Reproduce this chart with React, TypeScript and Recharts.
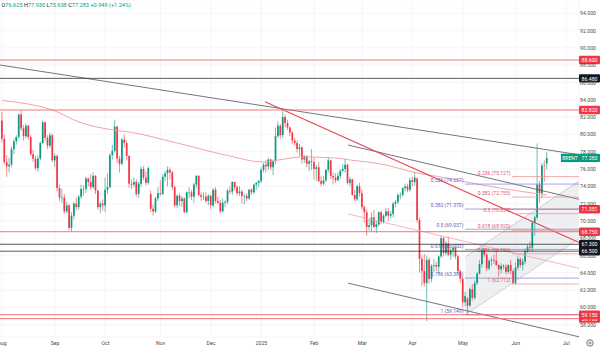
import React from 'react';
import { ComposedChart, Bar, Line, Area, XAxis, YAxis, CartesianGrid, ReferenceLine } from 'recharts';

// Daily candles [open, high, low, close]
const aug24 = [
  [81.6, 82.6, 79.1, 79.5], [79.5, 80.0, 76.5, 76.8], [76.8, 77.6, 75.1, 76.3], [76.3, 77.3, 75.6, 76.5],
  [76.5, 78.6, 76.2, 78.3], [78.3, 79.5, 77.7, 79.2], [79.2, 79.9, 78.8, 79.7], [79.7, 82.4, 79.5, 82.3],
  [82.3, 82.8, 80.4, 80.7], [80.7, 81.1, 79.3, 79.8], [79.8, 81.3, 79.5, 81.0], [81.0, 81.1, 79.4, 79.7],
  [79.7, 79.9, 77.5, 77.7], [77.7, 78.2, 76.8, 77.2], [77.2, 77.5, 75.9, 76.1], [76.1, 77.6, 75.7, 77.2],
  [77.2, 79.2, 77.0, 79.0], [79.0, 81.6, 78.9, 81.4], [81.4, 81.5, 79.3, 79.6], [79.6, 79.9, 78.3, 78.7],
  [78.7, 80.2, 78.4, 79.9], [79.9, 80.1, 76.8, 77.0],
];
const sep24 = [
  [77.0, 77.8, 76.2, 77.5], [77.5, 77.7, 73.4, 73.8], [73.8, 74.2, 72.3, 72.7], [72.7, 73.7, 72.1, 72.7],
  [72.7, 73.1, 70.8, 71.1], [71.1, 72.2, 70.9, 71.8], [71.8, 72.0, 68.9, 69.2], [69.2, 71.0, 68.8, 70.6],
  [70.6, 72.2, 70.2, 72.0], [72.0, 72.7, 71.3, 71.6], [71.6, 73.0, 71.3, 72.8], [72.8, 74.2, 72.5, 73.7],
  [73.7, 74.1, 72.9, 73.7], [73.7, 75.1, 73.2, 74.9], [74.9, 75.0, 74.0, 74.5], [74.5, 75.4, 73.6, 73.9],
  [73.9, 75.6, 73.7, 75.2], [75.2, 75.3, 73.1, 73.5], [73.5, 73.6, 71.3, 71.6], [71.6, 72.2, 70.9, 72.0],
  [72.0, 72.5, 71.2, 71.8],
];
const oct24 = [
  [71.8, 75.0, 71.0, 73.6], [73.6, 75.5, 73.1, 73.9], [73.9, 77.8, 73.8, 77.6], [77.6, 78.8, 77.1, 78.1],
  [78.1, 81.7, 77.9, 80.9], [80.9, 81.0, 76.7, 77.2], [77.2, 77.5, 75.6, 76.6], [76.6, 79.6, 76.4, 79.4],
  [79.4, 80.0, 78.5, 79.0], [79.0, 79.3, 77.0, 77.5], [77.5, 77.6, 73.8, 74.3], [74.3, 74.8, 73.7, 74.2],
  [74.2, 75.0, 73.9, 74.5], [74.5, 74.8, 72.8, 73.1], [73.1, 74.5, 72.7, 74.3], [74.3, 76.3, 73.9, 76.0],
  [76.0, 76.3, 74.7, 75.0], [75.0, 75.7, 74.1, 74.4], [74.4, 76.3, 74.2, 76.1], [73.1, 73.5, 71.0, 71.4],
  [71.4, 71.9, 70.6, 71.1], [71.1, 72.8, 70.9, 72.6], [72.6, 73.9, 72.3, 73.2],
];
const nov24 = [
  [73.2, 74.7, 72.9, 73.1], [73.1, 75.4, 73.0, 75.1], [75.1, 75.8, 74.6, 75.5], [75.5, 76.3, 74.0, 75.9],
  [75.9, 76.2, 74.8, 75.6], [75.6, 75.8, 73.6, 73.9], [73.9, 74.1, 71.6, 71.8], [71.8, 73.1, 71.5, 72.9],
  [72.9, 73.2, 71.7, 72.3], [72.3, 72.9, 71.6, 72.6], [72.6, 72.7, 70.9, 71.0], [71.0, 73.4, 70.9, 73.3],
  [73.3, 73.9, 72.6, 73.3], [73.3, 73.6, 72.4, 72.8], [72.8, 74.4, 72.1, 74.2], [74.2, 75.3, 73.8, 75.2],
  [75.2, 75.3, 72.8, 73.0], [73.0, 73.3, 72.3, 72.8], [72.8, 73.3, 72.4, 72.8], [72.8, 73.3, 72.1, 72.3],
  [72.3, 73.1, 71.8, 72.9],
];
const dec24 = [
  [72.9, 73.0, 71.4, 71.8], [71.8, 73.8, 71.6, 73.6], [73.6, 73.9, 72.0, 72.3], [72.3, 72.8, 71.9, 72.1],
  [72.1, 72.4, 70.9, 71.1], [71.1, 72.6, 71.0, 72.1], [72.1, 72.4, 71.6, 72.2], [72.2, 73.7, 71.9, 73.5],
  [73.5, 74.0, 73.1, 73.4], [73.4, 74.6, 73.0, 74.5], [74.5, 74.5, 73.5, 73.9], [73.9, 74.1, 72.9, 73.2],
  [73.2, 74.0, 72.9, 73.4], [73.4, 73.6, 72.0, 72.9], [72.9, 73.1, 71.9, 72.9], [72.9, 73.2, 72.3, 72.6],
  [72.6, 73.7, 72.4, 73.6], [73.6, 73.8, 73.0, 73.3], [73.3, 74.3, 73.1, 74.2], [74.2, 74.5, 73.6, 74.4],
  [74.4, 74.8, 73.9, 74.6],
];
const jan25 = [
  [74.6, 76.2, 74.4, 75.9], [75.9, 76.7, 75.6, 76.5], [76.5, 77.0, 75.6, 76.3], [76.3, 77.3, 75.9, 77.1],
  [77.1, 77.2, 75.9, 76.2], [76.2, 77.1, 75.3, 76.9], [76.9, 80.8, 76.6, 79.8], [79.8, 81.5, 79.6, 81.0],
  [81.0, 81.2, 79.5, 79.9], [79.9, 82.7, 79.6, 82.0], [82.0, 82.3, 80.8, 81.3], [81.3, 81.7, 80.5, 80.8],
  [80.8, 80.9, 79.8, 80.2], [80.2, 80.4, 78.9, 79.3], [79.3, 79.6, 78.7, 79.0], [79.0, 79.3, 77.9, 78.3],
  [78.3, 78.9, 77.5, 78.5], [78.5, 78.6, 76.6, 77.1], [77.1, 77.6, 76.7, 77.5], [77.5, 77.6, 76.2, 76.6],
  [76.6, 77.1, 75.8, 76.9], [76.9, 78.3, 75.9, 76.8],
];
const feb25 = [
  [76.8, 77.3, 74.8, 76.0], [76.0, 76.5, 74.6, 76.2], [76.2, 76.8, 74.5, 74.6], [74.6, 75.2, 74.0, 74.3],
  [74.3, 75.2, 74.1, 74.7], [74.7, 76.0, 74.5, 75.9], [75.9, 77.3, 75.6, 77.0], [77.0, 77.1, 74.8, 75.2],
  [75.2, 75.6, 74.2, 75.0], [75.0, 75.5, 74.4, 74.7], [74.7, 75.6, 74.6, 75.2], [75.2, 76.0, 74.9, 75.8],
  [75.8, 76.6, 75.6, 76.0], [76.0, 77.2, 75.6, 76.5], [76.5, 76.6, 74.2, 74.4], [74.4, 75.1, 74.0, 74.8],
  [74.8, 74.9, 72.9, 73.0], [73.0, 73.6, 72.3, 72.5], [72.5, 74.2, 72.3, 74.0], [74.0, 74.4, 72.8, 73.2],
];
const mar25 = [
  [73.2, 73.6, 71.3, 71.6], [71.6, 71.8, 69.8, 71.0], [71.0, 71.3, 68.3, 69.3], [69.3, 70.2, 68.9, 69.5],
  [69.5, 71.0, 68.8, 70.4], [70.4, 71.3, 69.2, 69.3], [69.3, 70.0, 68.6, 69.6], [69.6, 71.1, 69.4, 71.0],
  [71.0, 71.2, 69.6, 69.9], [69.9, 70.8, 69.7, 70.6], [70.6, 71.5, 70.4, 71.1], [71.1, 71.5, 70.0, 70.6],
  [70.6, 71.1, 70.3, 70.8], [70.8, 72.2, 70.4, 72.0], [72.0, 72.4, 71.6, 72.2], [72.2, 73.2, 71.9, 73.0],
  [73.0, 73.3, 72.5, 73.0], [73.0, 73.9, 72.8, 73.8], [73.8, 74.3, 73.4, 74.0], [74.0, 74.3, 73.3, 73.6],
  [73.6, 75.0, 73.3, 74.7],
];
const apr25 = [
  [74.7, 75.1, 74.0, 74.5], [74.5, 75.7, 74.1, 75.0], [74.9, 75.0, 69.8, 70.1], [70.1, 70.4, 64.0, 65.6],
  [65.6, 66.0, 62.5, 64.2], [64.2, 66.2, 62.4, 62.8], [62.8, 66.0, 58.4, 65.5], [65.5, 65.8, 62.7, 63.3],
  [63.3, 65.0, 62.9, 64.8], [64.8, 65.6, 64.1, 64.9], [64.9, 65.3, 64.2, 64.7], [64.7, 66.0, 64.0, 65.9],
  [65.9, 68.3, 65.7, 68.0], [68.0, 68.2, 65.9, 66.3], [66.3, 67.7, 66.0, 67.4], [67.4, 68.2, 65.9, 66.1],
  [66.1, 66.9, 65.5, 66.6], [66.6, 67.3, 65.8, 66.9], [66.9, 67.1, 65.6, 65.9], [65.9, 66.1, 63.9, 64.2],
  [64.2, 64.4, 62.8, 63.3],
];
const may25 = [
  [63.3, 63.6, 60.0, 60.6], [60.6, 61.8, 60.1, 61.3], [61.0, 61.2, 59.15, 60.2], [60.2, 62.3, 60.1, 62.1],
  [62.1, 62.7, 60.8, 61.1], [61.1, 63.1, 60.9, 62.8], [62.8, 64.1, 62.6, 63.9], [63.9, 65.5, 63.8, 65.0],
  [65.0, 67.0, 64.6, 66.6], [66.6, 66.9, 65.8, 66.1], [66.1, 66.3, 64.2, 64.5], [64.5, 65.6, 64.3, 65.4],
  [65.4, 65.8, 64.8, 65.5], [65.5, 66.1, 65.0, 65.4], [65.4, 66.6, 64.8, 64.9], [64.9, 65.0, 63.5, 64.4],
  [64.4, 65.1, 63.9, 64.8], [64.8, 65.0, 64.4, 64.7], [64.7, 65.0, 63.8, 64.1], [64.1, 65.0, 63.9, 64.9],
  [64.9, 65.5, 63.8, 64.2], [64.2, 64.4, 62.7, 62.8],
];
const jun25 = [
  [62.8, 65.2, 62.6, 64.6], [64.6, 66.0, 64.3, 65.6], [65.6, 65.8, 64.6, 64.9], [64.9, 65.7, 64.3, 65.3],
  [65.3, 66.8, 65.0, 66.5], [66.5, 67.3, 66.3, 67.0], [67.0, 67.6, 66.4, 66.9], [66.9, 69.9, 66.4, 69.8],
  [69.8, 70.6, 68.3, 70.4], [70.4, 78.95, 70.2, 74.2], [74.2, 74.6, 72.1, 73.2], [73.2, 76.7, 72.6, 76.4],
  [76.4, 77.0, 74.5, 76.33], [76.625, 77.93, 75.938, 77.283],
];

// x axis: month starts (bar index) and labels
const monthTicks = [0, 22, 43, 66, 87, 108, 130, 150, 171, 192, 214, 235];
const monthLabels = ['Aug', 'Sep', 'Oct', 'Nov', 'Dec', '2025', 'Feb', 'Mar', 'Apr', 'May', 'Jun', 'Jul'];
const priceTicks = [58, 60, 62, 64, 66, 68, 70, 72, 74, 76, 78, 80, 82, 84, 86, 88, 90, 92, 94];

// 200-day moving average, read at sample bars
const maBars = [0, 10, 21, 32, 45, 53, 73, 93, 109, 115, 125, 139, 145, 160, 171, 185, 200, 215, 227];
const maValues = [83.92, 83.55, 82.82, 81.43, 80.57, 80.27, 79.0, 77.62, 76.81, 77.04, 77.39, 77.27, 77.04, 76.46, 75.65, 74.96, 74.15, 73.46, 73.0];

// rising channel (lower/upper) at its two ends
const channelBars = [193, 240];
const channelLow = [59.16, 67.93];
const channelHigh = [65.86, 74.58];

const X_MIN = -0.9167;
const X_MAX = 240.33;
const Y_MIN = 56.578;
const Y_MAX = 95.538;

// drawn trend lines: [x1, y1, x2, y2]
const trendBlack = [
  [X_MIN, 88.02, X_MAX, 77.65],
  [144.1, 78.77, X_MAX, 72.5],
  [144.1, 62.8, X_MAX, 56.6],
];
const trendRed = [[109.5, 83.77, X_MAX, 67.51]];
const trendPink = [[144.1, 70.8, X_MAX, 64.52]];
const trendGray = [
  [193, 65.86, X_MAX, 74.6],
  [193, 59.16, X_MAX, 67.95],
];

// fibonacci retracements
const fibARatios = ['0.236', '0.382', '0.5', '0.618', '0.786', '1'];
const fibAValues = [74.257, 71.37, 69.037, 66.703, 63.386, 59.149];
const fibAStart = 192.8;
const fibBRatios = ['0.236', '0.382', '0.5', '0.618', '0.786', '1'];
const fibBValues = [75.127, 72.755, 70.837, 68.92, 66.196, 62.712];
const fibBStart = 212.4;

// horizontal levels
const redLevels = [88.6, 82.82, 68.75, 58.7, 59.15];
const blackLevels = [86.48, 67.3, 66.5];
const partialRed = { start: 210, value: 71.351 };
const lastPrice = 77.283;

const UP = '#089981';
const DOWN = '#f23645';
const RED_LINE = '#f0646c';
const BLACK_LINE = '#2a2e39';
const FONT = 'Roboto, Arial, sans-serif';

const allCandles = [...aug24, ...sep24, ...oct24, ...nov24, ...dec24, ...jan25, ...feb25, ...mar25, ...apr25, ...may25, ...jun25];

const rows: any[] = allCandles.map(([o, h, l, c], i) => ({ i, o, h, l, c, range: [l, h] }));
maBars.forEach((b, k) => { rows[b].ma = maValues[k]; });
rows.push({ i: 240 });
const rowAt = (b: number) => rows.find((r) => r.i === b);
channelBars.forEach((b, k) => { rowAt(b).chan = [channelLow[k], channelHigh[k]]; });

const Candle = (props: any) => {
  const { x, y, width, height, payload } = props;
  if (!payload || payload.o == null || y == null || isNaN(y)) return null;
  const { o, h, l, c } = payload;
  const top = Math.min(y, y + height);
  const bot = Math.max(y, y + height);
  const ppu = (bot - top) / (h - l || 1);
  const yO = top + (h - o) * ppu;
  const yC = top + (h - c) * ppu;
  const cx = x + width / 2;
  const color = c >= o ? UP : DOWN;
  const bt = Math.min(yO, yC);
  const bh = Math.max(Math.abs(yO - yC), 0.6);
  return (
    <g>
      <line x1={cx} x2={cx} y1={top} y2={bot} stroke={color} strokeWidth={0.6} />
      <rect x={cx - 0.85} y={bt} width={1.7} height={bh} fill={color} />
    </g>
  );
};

const priceBox = (text: string, color: string, tag?: string) => (props: any) => {
  const vb = props.viewBox || {};
  const xr = (vb.x || 0) + (vb.width || 0);
  const yc = vb.y || 0;
  return (
    <g>
      {tag ? (
        <g>
          <rect x={xr - 18} y={yc - 4.2} width={18} height={8.4} fill={color} />
          <text x={xr - 9} y={yc + 0.2} textAnchor="middle" dominantBaseline="central" fontSize={5} fill="#fff" fontFamily={FONT}>{tag}</text>
        </g>
      ) : null}
      <rect x={xr} y={yc - 4.2} width={600 - xr} height={8.4} fill={color} rx={1} />
      <text x={xr + (600 - xr) / 2} y={yc + 0.2} textAnchor="middle" dominantBaseline="central" fontSize={5.2} fill="#fff" fontFamily={FONT}>{text}</text>
    </g>
  );
};

const fibLabel = (text: string, color: string) => (props: any) => {
  const vb = props.viewBox || {};
  return (
    <text x={(vb.x || 0) - 1.5} y={(vb.y || 0) - 1.8} textAnchor="end" fontSize={5} fill={color} fontFamily={FONT}>{text}</text>
  );
};

const XTick = (props: any) => {
  const { x, y, payload } = props;
  const k = monthTicks.indexOf(payload.value);
  return (
    <text x={x} y={y + 6} textAnchor="middle" dominantBaseline="central" fontSize={5.2} fill="#4a4a4a" fontFamily={FONT}>
      {monthLabels[k]}
    </text>
  );
};

const YTick = (props: any) => {
  const { y, payload } = props;
  return (
    <text x={596} y={y} textAnchor="end" dominantBaseline="central" fontSize={5.2} fill="#4a4a4a" fontFamily={FONT}>
      {Number(payload.value).toFixed(3)}
    </text>
  );
};

export default function App() {
  const seg = (a: number[]) => [{ x: a[0], y: a[1] }, { x: a[2], y: a[3] }];
  return (
    <div style={{ position: 'fixed', left: 0, top: 0, width: 600, height: 351, background: '#fff', overflow: 'hidden' }}>
      <ComposedChart width={600} height={351} data={rows} margin={{ top: 0, right: 0, bottom: 0, left: 0 }}>
        <CartesianGrid stroke="#f0f2f6" strokeWidth={0.7} />
        <XAxis
          type="number"
          dataKey="i"
          domain={[X_MIN, X_MAX]}
          allowDataOverflow
          ticks={monthTicks}
          interval={0}
          height={14}
          axisLine={false}
          tickLine={false}
          tickSize={0}
          tickMargin={0}
          tick={<XTick />}
        />
        <YAxis
          orientation="right"
          type="number"
          domain={[Y_MIN, Y_MAX]}
          allowDataOverflow
          ticks={priceTicks}
          interval={0}
          width={21}
          axisLine={false}
          tickLine={false}
          tickSize={0}
          tick={<YTick />}
        />
        <Area dataKey="chan" type="linear" connectNulls stroke="none" fill="#d9dbe0" fillOpacity={0.45} isAnimationActive={false} />
        <Line dataKey="ma" type="monotone" connectNulls dot={false} stroke="#f4a3a6" strokeWidth={1} isAnimationActive={false} />
        <Bar dataKey="range" barSize={1.8} shape={<Candle />} isAnimationActive={false} />

        {trendGray.map((t, k) => (
          <ReferenceLine key={'g' + k} segment={seg(t)} stroke="#b2b5be" strokeWidth={0.6} ifOverflow="visible" />
        ))}
        {trendPink.map((t, k) => (
          <ReferenceLine key={'p' + k} segment={seg(t)} stroke="#f4a3a6" strokeWidth={0.8} ifOverflow="visible" />
        ))}
        {trendBlack.map((t, k) => (
          <ReferenceLine key={'b' + k} segment={seg(t)} stroke="#50535e" strokeWidth={0.8} ifOverflow="visible" />
        ))}
        {trendRed.map((t, k) => (
          <ReferenceLine key={'r' + k} segment={seg(t)} stroke="#e5474f" strokeWidth={1.1} ifOverflow="visible" />
        ))}

        {fibAValues.map((v, k) => (
          <ReferenceLine
            key={'fa' + k}
            segment={[{ x: fibAStart, y: v }, { x: X_MAX, y: v }]}
            stroke="#7b7fd6"
            strokeWidth={0.7}
            ifOverflow="visible"
            label={fibLabel(`${fibARatios[k]} (${v.toFixed(3)})`, '#5b5fc7')}
          />
        ))}
        {fibBValues.map((v, k) => (
          <ReferenceLine
            key={'fb' + k}
            segment={[{ x: fibBStart, y: v }, { x: X_MAX, y: v }]}
            stroke="#f08a8e"
            strokeWidth={0.7}
            ifOverflow="visible"
            label={fibLabel(`${fibBRatios[k]} (${v.toFixed(3)})`, '#e0575f')}
          />
        ))}

        <ReferenceLine
          segment={[{ x: partialRed.start, y: partialRed.value }, { x: X_MAX, y: partialRed.value }]}
          stroke={RED_LINE}
          strokeWidth={0.8}
          ifOverflow="visible"
        />
        <ReferenceLine y={partialRed.value} stroke="none" ifOverflow="visible" label={priceBox(partialRed.value.toFixed(3), '#f23645')} />

        {blackLevels.map((v) => (
          <ReferenceLine key={'bl' + v} y={v} stroke={BLACK_LINE} strokeWidth={0.8} ifOverflow="visible" label={priceBox(v.toFixed(3), '#131722')} />
        ))}
        {redLevels.map((v) => (
          <ReferenceLine key={'rl' + v} y={v} stroke={RED_LINE} strokeWidth={0.9} ifOverflow="visible" label={priceBox(v.toFixed(3), '#f23645')} />
        ))}
        <ReferenceLine y={lastPrice} stroke="none" ifOverflow="visible" label={priceBox(lastPrice.toFixed(3), UP, 'BRENT')} />
      </ComposedChart>

      <svg width={200} height={12} style={{ position: 'absolute', left: 0, top: 0 }}>
        <text x={1.5} y={7.2} fontSize={5.6} fontFamily={FONT}>
          <tspan fill="#131722">O</tspan><tspan fill={UP}>76.625 </tspan>
          <tspan fill="#131722">H</tspan><tspan fill={UP}>77.930 </tspan>
          <tspan fill="#131722">L</tspan><tspan fill={UP}>75.938 </tspan>
          <tspan fill="#131722">C</tspan><tspan fill={UP}>77.283 +0.949 (+1.24%)</tspan>
        </text>
      </svg>
      <svg width={12} height={12} style={{ position: 'absolute', left: 584, top: 337 }}>
        <circle cx={6} cy={6} r={3.2} fill="none" stroke="#50535e" strokeWidth={0.8} />
        <circle cx={6} cy={6} r={1.1} fill="none" stroke="#50535e" strokeWidth={0.7} />
      </svg>
    </div>
  );
}
